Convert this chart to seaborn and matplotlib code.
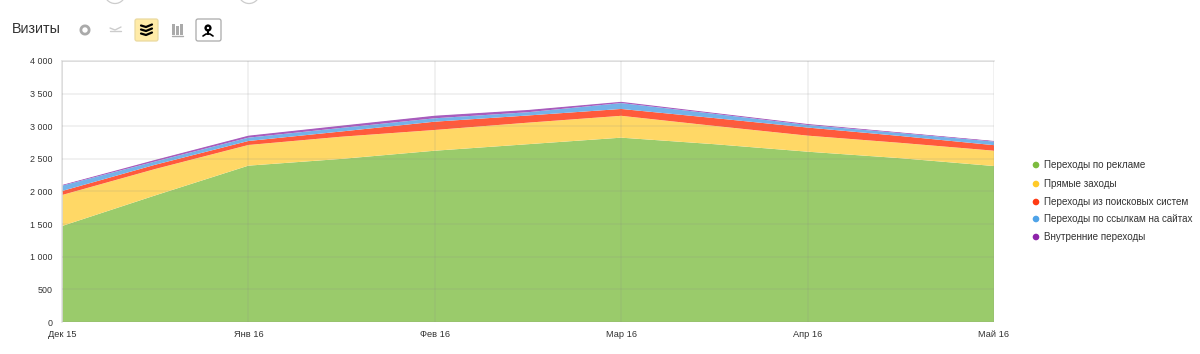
"""Yandex.Metrica style stacked area chart of visits by traffic source."""

import matplotlib
matplotlib.use("Agg")
import matplotlib.pyplot as plt
import numpy as np
import pandas as pd
import seaborn as sns
import seaborn.objects as so
from matplotlib.patches import Circle, FancyBboxPatch, Rectangle, Wedge

# ── data ───────────────────────────────────────
positions = [0, 0.5, 1, 1.5, 2, 2.5, 3, 3.5, 4, 4.5, 5]
month_labels = ["Дек 15", "Янв 16", "Фев 16", "Мар 16", "Апр 16", "Май 16"]
y_ticks = [0, 500, 1000, 1500, 2000, 2500, 3000, 3500, 4000]
y_labels = ["0", "500", "1 000", "1 500", "2 000", "2 500", "3 000", "3 500", "4 000"]

series_names = [
    "Переходы по рекламе",
    "Прямые заходы",
    "Переходы из поисковых систем",
    "Переходы по ссылкам на сайтах",
    "Внутренние переходы",
]
ads = [1471, 1940, 2396, 2500, 2625, 2725, 2825, 2725, 2610, 2510, 2390]
direct = [475, 405, 317, 340, 318, 330, 335, 280, 246, 235, 235]
search = [61, 65, 61, 80, 127, 110, 105, 120, 124, 105, 85]
links = [83, 50, 51, 55, 52, 50, 90, 65, 40, 45, 55]
internal = [10, 25, 31, 35, 40, 35, 20, 15, 15, 10, 10]

fill_colors = ["#9ACB6B", "#FFD866", "#FF5A3C", "#74B2E8", "#A85CBD"]
dot_colors = ["#7CBB3E", "#FFCA28", "#FF3B14", "#4FA3E8", "#8E24AA"]

df = pd.DataFrame({
    "x": positions * len(series_names),
    "visits": ads + direct + search + links + internal,
    "series": np.repeat(series_names, len(positions)),
})

# ── figure ─────────────────────────────────────
sns.set_theme(style="white")
plt.rcParams["font.family"] = ["Liberation Sans", "DejaVu Sans"]

W, H = 1200, 354
fig = plt.figure(figsize=(W / 100, H / 100), dpi=100, facecolor="white")
ax = fig.add_axes([62 / W, 1 - 322 / H, (994 - 62) / W, (322 - 61) / H])

(
    so.Plot(df, x="x", y="visits", color="series")
    .add(so.Area(alpha=1, edgealpha=1, edgewidth=0.2), so.Stack(), legend=False)
    .scale(color=so.Nominal(dict(zip(series_names, fill_colors)), order=series_names))
    .limit(x=(0, 5), y=(0, 4000))
    .label(x="", y="")
    .on(ax)
    .plot()
)

# so.Area clips each fill to its own outline, which eats the thin layers
for coll in ax.collections:
    coll.set_clip_path(ax.patch)

ax.set_facecolor("white")
ax.set_xticks(range(len(month_labels)), month_labels)
ax.set_yticks(y_ticks, y_labels)
ax.tick_params(length=0, labelsize=6.7, colors="#333333", pad=7)
ax.tick_params(axis="y", labelsize=6.4)
ax.tick_params(axis="x", pad=6)

# the grid lies on top of the areas as a faint dark line
ax.set_axisbelow(False)
ax.grid(True, color="#888888", lw=1.2)
for line in ax.get_xgridlines() + ax.get_ygridlines():
    line.set_alpha(0.13)

for side, spine in ax.spines.items():
    spine.set_visible(side in ("left", "top"))
    spine.set_color("#E4E4E4")
    spine.set_linewidth(1.2)

# ── overlay in pixel coordinates: header, toolbar and legend ──
ov = fig.add_axes([0, 0, 1, 1], zorder=5)
ov.set_xlim(0, W)
ov.set_ylim(H, 0)
ov.axis("off")
ov.patch.set_alpha(0)

ov.text(12, 29, "Визиты", fontsize=10.3, color="#333333", va="center")

# cut-off round buttons on the top edge
for cx in (115, 249):
    ov.add_patch(Circle((cx, -7), 10.5, fc="white", ec="#CCCCCC", lw=0.9))

# toolbar buttons
ov.add_patch(FancyBboxPatch((135, 19), 23, 22, boxstyle="round,pad=0,rounding_size=2",
                            fc="#FFEBA8", ec="#EAD9A0", lw=0.9))
ov.add_patch(FancyBboxPatch((196, 19), 25, 22, boxstyle="round,pad=0,rounding_size=2",
                            fc="white", ec="#AAAAAA", lw=0.9))
ov.add_patch(Wedge((85, 30), 5.5, 0, 360, width=2.8, fc="#AAAAAA", ec="none"))
ov.plot([110, 121], [31, 31], color="#CCCCCC", lw=1)
ov.plot([110, 115, 121], [28, 30, 27], color="#CCCCCC", lw=1)
for ic in (25.5, 29.5, 33.5):
    ov.plot([141, 146, 152], [ic, ic + 1.5, ic - 1], color="black", lw=1.6)
for bx, bh in zip((172, 176, 180), (11, 9, 11)):
    ov.add_patch(Rectangle((bx, 35 - bh), 3, bh, fc="#AAAAAA", ec="none"))
ov.plot([172, 183], [36, 36], color="#AAAAAA", lw=1)
ov.add_patch(Circle((208, 28), 3.6, fc="black", ec="none"))
ov.add_patch(Circle((208, 28), 1.2, fc="white", ec="none"))
ov.plot([208, 208], [30, 34], color="black", lw=1.5)
ov.plot([203, 206, 210, 213], [36, 34, 34, 36], color="black", lw=1.2)

# legend
legend_y = [165, 184, 202, 219, 237]
for name, col, ly in zip(series_names, dot_colors, legend_y):
    ov.add_patch(Circle((1036, ly), 3.3, fc=col, ec="none"))
    ov.text(1044, ly, name, fontsize=7.1, color="#333333", va="center")

fig.savefig("out.png", dpi=100, facecolor="white")
